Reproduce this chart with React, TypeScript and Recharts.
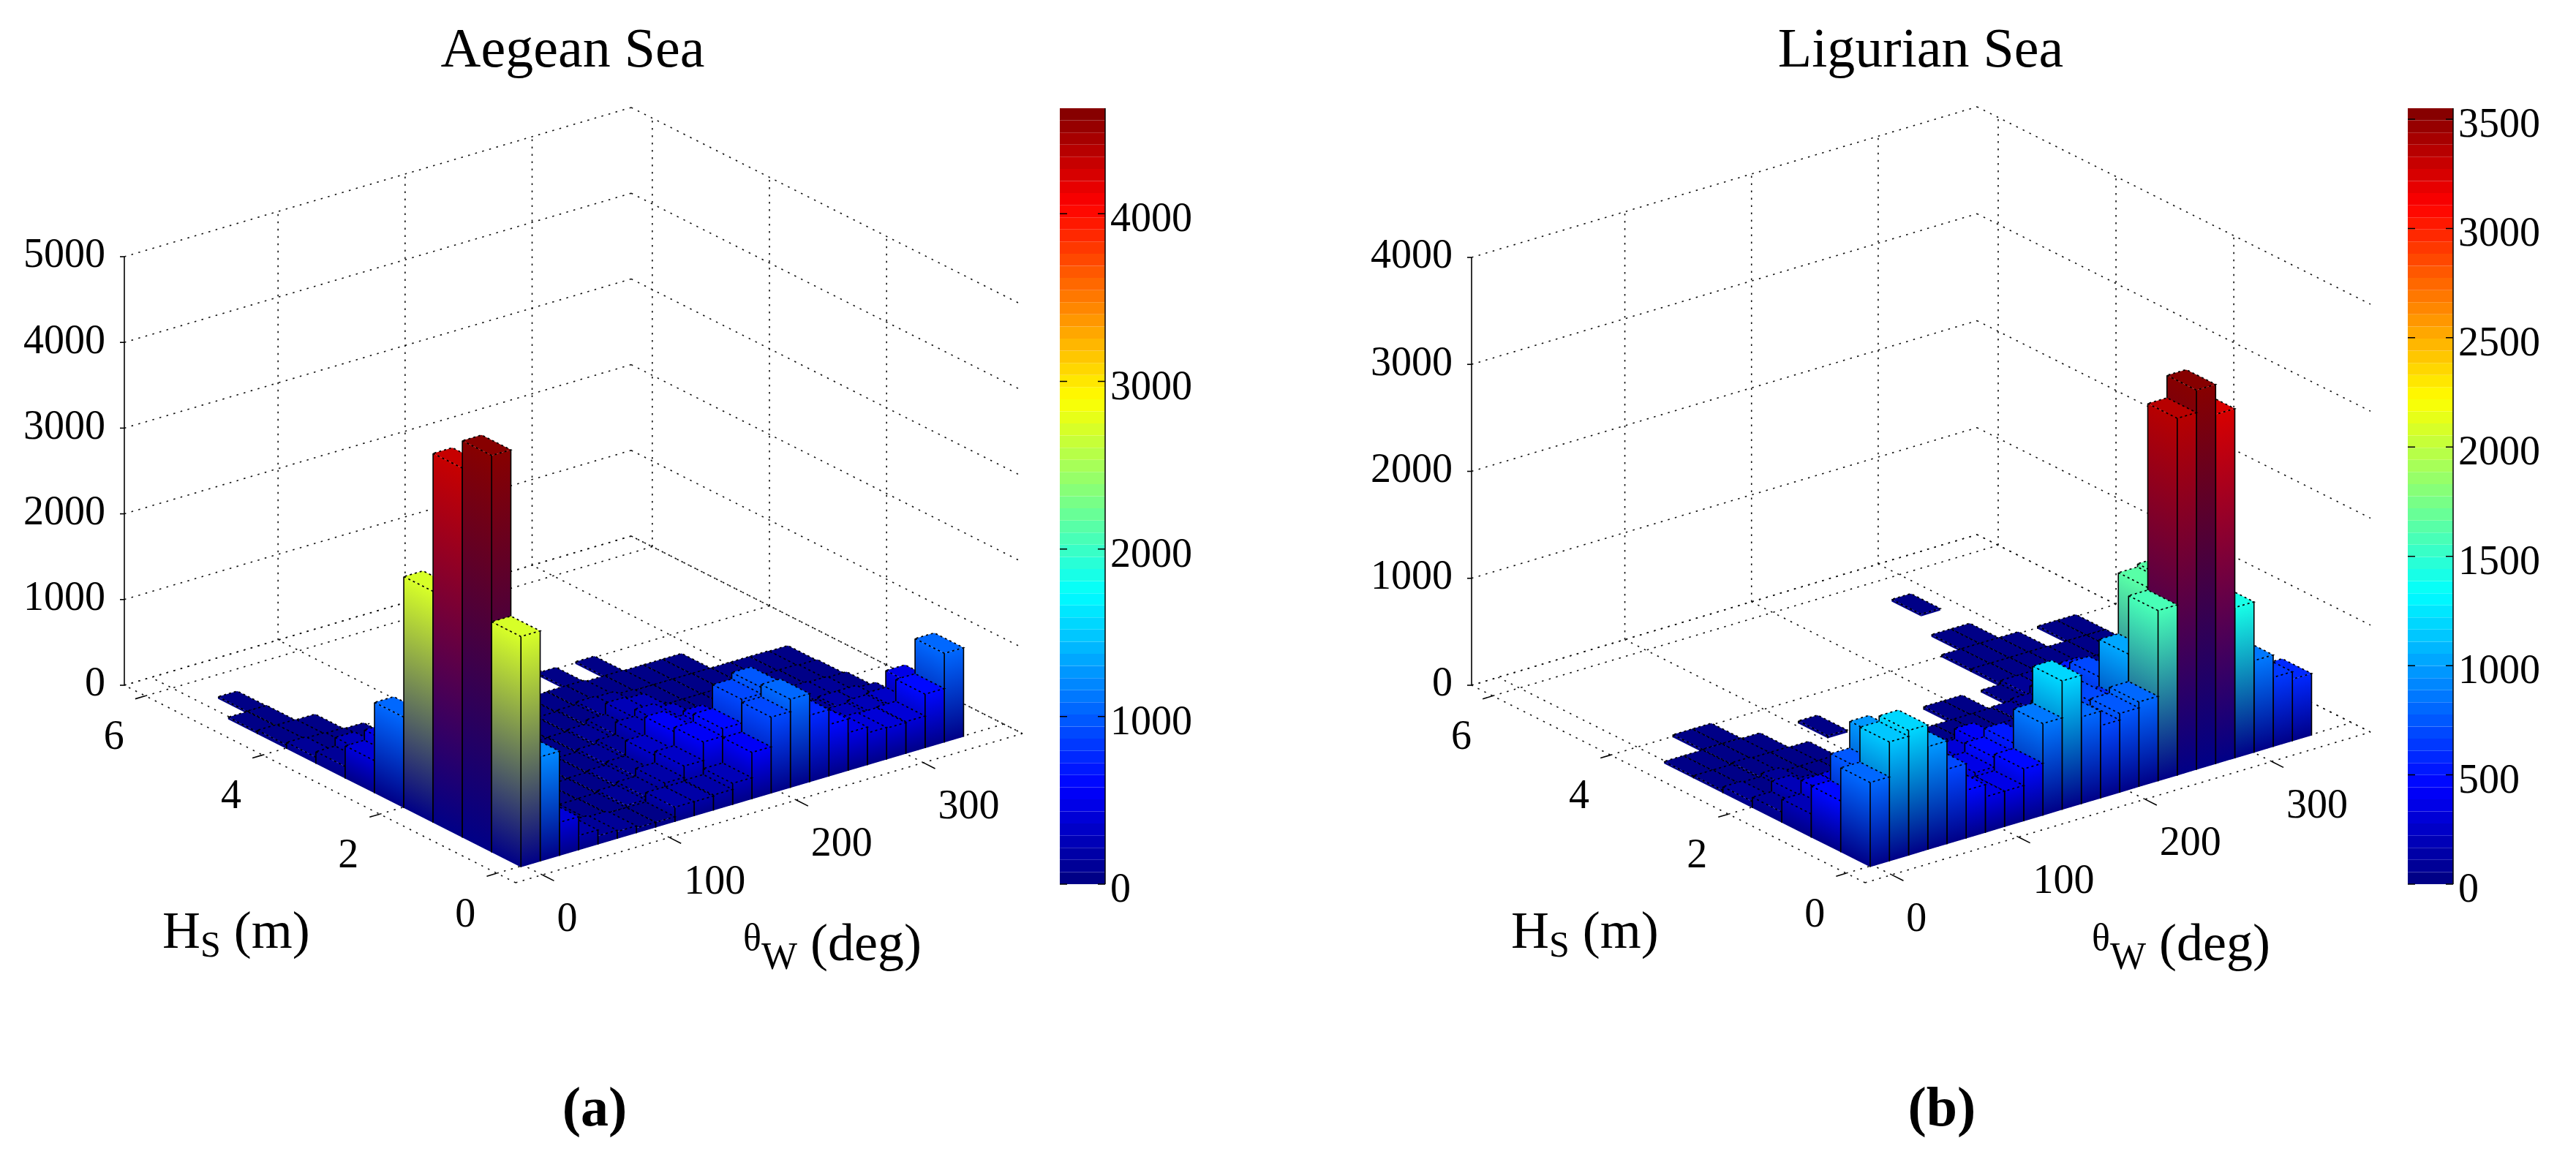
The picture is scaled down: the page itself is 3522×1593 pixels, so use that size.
import { BarChart, Bar, XAxis, YAxis, ScatterChart, Scatter, ReferenceLine } from 'recharts';

// wave height bins (m) and wave direction bins (deg)
const hsBins = [0, 0.5, 1, 1.5, 2, 2.5, 3, 3.5, 4, 4.5, 5];
const thetaBins = [0, 15, 30, 45, 60, 75, 90, 105, 120, 135, 150, 165, 180, 195, 210, 225, 240, 255, 270, 285, 300, 315, 330];

const thetaTicks = [0, 100, 200, 300];
const hsTicks = [0, 2, 4, 6];
const wallThetaTicks = [100, 200, 300];
const wallHsTicks = [2, 4, 6];
const aegeanZTicks = [0, 1000, 2000, 3000, 4000, 5000];
const ligurianZTicks = [0, 1000, 2000, 3000, 4000];
const aegeanBarTicks = [0, 1000, 2000, 3000, 4000];
const ligurianBarTicks = [0, 500, 1000, 1500, 2000, 2500, 3000, 3500];

// counts per theta bin, one list per Hs bin (0 = no bar)
const aegeanHs0 = [2690, 1220, 390, 170, 100, 85, 60, 60, 170, 168, 180, 250, 545, 890, 1033, 780, 605, 445, 375, 365, 375, 630, 1040];
const aegeanHs1 = [4630, 350, 80, 60, 60, 55, 60, 85, 120, 213, 345, 560, 650, 925, 1000, 90, 200, 180, 180, 250, 280, 300, 495];
const aegeanHs2 = [4310, 300, 70, 50, 50, 45, 50, 60, 80, 120, 300, 510, 400, 450, 300, 70, 80, 90, 90, 120, 150, 150, 120];
const aegeanHs3 = [2700, 250, 60, 45, 45, 45, 40, 50, 60, 90, 130, 280, 360, 300, 120, 50, 50, 60, 60, 80, 90, 80, 70];
const aegeanHs4 = [1060, 450, 50, 40, 40, 40, 40, 40, 50, 60, 80, 130, 260, 240, 80, 40, 40, 40, 40, 50, 50, 50, 40];
const aegeanHs5 = [380, 500, 60, 40, 40, 40, 35, 35, 40, 45, 55, 70, 100, 90, 50, 35, 35, 35, 35, 35, 35, 35, 30];
const aegeanHs6 = [140, 240, 60, 40, 35, 35, 30, 30, 30, 35, 40, 45, 50, 50, 35, 35, 30, 30, 30, 0, 0, 0, 0];
const aegeanHs7 = [75, 60, 50, 40, 0, 0, 0, 0, 0, 0, 0, 0, 0, 25, 0, 25, 0, 0, 0, 0, 0, 0, 0];
const aegeanHs8 = [45, 40, 35, 0, 0, 0, 0, 0, 0, 0, 0, 0, 0, 0, 0, 0, 0, 0, 0, 0, 0, 0, 0];
const aegeanHs9 = [25, 30, 0, 0, 0, 0, 0, 0, 0, 0, 0, 0, 0, 0, 0, 0, 0, 0, 0, 0, 0, 0, 0];
const aegeanHs10 = [0, 25, 0, 0, 0, 0, 0, 0, 0, 0, 0, 0, 0, 0, 0, 0, 0, 0, 0, 0, 0, 0, 0];
const aegeanRows = [aegeanHs0, aegeanHs1, aegeanHs2, aegeanHs3, aegeanHs4, aegeanHs5, aegeanHs6, aegeanHs7, aegeanHs8, aegeanHs9, aegeanHs10];

const ligurianHs0 = [790, 1116, 1170, 965, 700, 450, 335, 335, 490, 860, 1205, 815, 680, 740, 795, 1596, 3340, 3550, 3270, 1410, 860, 650, 580];
const ligurianHs1 = [480, 730, 980, 150, 80, 100, 150, 370, 460, 540, 300, 300, 300, 720, 610, 1050, 1620, 1650, 900, 500, 300, 200, 150];
const ligurianHs2 = [220, 345, 350, 100, 60, 60, 120, 200, 300, 400, 300, 250, 200, 450, 500, 700, 630, 800, 400, 100, 80, 60, 50];
const ligurianHs3 = [100, 200, 150, 60, 50, 50, 60, 80, 100, 120, 100, 80, 80, 100, 100, 200, 500, 300, 200, 80, 60, 50, 40];
const ligurianHs4 = [60, 50, 80, 40, 40, 40, 40, 40, 45, 50, 50, 50, 50, 50, 60, 80, 150, 120, 80, 50, 40, 40, 30];
const ligurianHs5 = [25, 25, 40, 30, 30, 25, 0, 0, 0, 0, 0, 0, 30, 30, 0, 25, 60, 60, 50, 35, 30, 30, 25];
const ligurianHs6 = [20, 20, 25, 25, 20, 0, 0, 25, 0, 0, 0, 0, 0, 0, 0, 0, 30, 30, 30, 30, 25, 25, 25];
const ligurianHs7 = [0, 0, 25, 25, 0, 0, 0, 0, 0, 0, 0, 0, 0, 0, 0, 0, 25, 25, 25, 25, 0, 25, 25];
const ligurianHs8 = [0, 0, 0, 0, 0, 0, 0, 0, 0, 0, 0, 0, 0, 0, 0, 0, 0, 20, 20, 0, 0, 0, 0];
const ligurianHs9 = [0, 0, 0, 0, 0, 0, 0, 0, 0, 0, 0, 0, 0, 0, 0, 0, 0, 0, 0, 0, 0, 0, 0];
const ligurianHs10 = [0, 0, 0, 0, 0, 0, 0, 0, 0, 0, 0, 0, 0, 0, 0, 0, 0, 0, 20, 0, 0, 0, 0];
const ligurianRows = [ligurianHs0, ligurianHs1, ligurianHs2, ligurianHs3, ligurianHs4, ligurianHs5, ligurianHs6, ligurianHs7, ligurianHs8, ligurianHs9, ligurianHs10];

const SERIF = '"Liberation Serif", serif';
const W = 3522;
const H = 1593;
const THETA_RANGE = [-21, 378];
const HS_RANGE = [-0.32, 6.36];
const THETA_STEP = 15.15;
const HS_STEP = 0.5;
const THETA_START = -3;
const HS_START = -0.02;
const DOT = '2.5 7.5';

const aegeanBox = {
  id: 'a',
  front: [705, 1207],
  thetaVec: [693, -204],
  hsVec: [-535, -270],
  zHeight: 586,
  zMax: 5000,
  cbMax: 4630,
  rows: aegeanRows,
  zTicks: aegeanZTicks,
  title: 'Aegean Sea',
  titleX: 783,
  tag: '(a)',
  tagX: 813,
  hsLabel: [222, 1296],
  thetaLabel: [1016, 1313],
};

const ligurianBox = {
  id: 'b',
  front: [2550, 1207],
  thetaVec: [691, -206],
  hsVec: [-538, -270],
  zHeight: 585,
  zMax: 4000,
  cbMax: 3550,
  rows: ligurianRows,
  zTicks: ligurianZTicks,
  title: 'Ligurian Sea',
  titleX: 2626,
  tag: '(b)',
  tagX: 2655,
  hsLabel: [2066, 1296],
  thetaLabel: [2860, 1313],
};

type Box = typeof aegeanBox;

const thetaFrac = (t: number) => (t - THETA_RANGE[0]) / (THETA_RANGE[1] - THETA_RANGE[0]);
const hsFrac = (h: number) => (h - HS_RANGE[0]) / (HS_RANGE[1] - HS_RANGE[0]);

// 3D value -> plane position, the axes of the chart then place it
const project = (b: Box, theta: number, hs: number, z = 0) => ({
  px: b.front[0] + thetaFrac(theta) * b.thetaVec[0] + hsFrac(hs) * b.hsVec[0],
  py: b.front[1] + thetaFrac(theta) * b.thetaVec[1] + hsFrac(hs) * b.hsVec[1] - (z / b.zMax) * b.zHeight,
});

// matlab jet, 64 levels
const jet = (v: number, max: number) => {
  const idx = Math.min(63, Math.floor((v / max) * 64));
  const t = (idx + 0.5) / 64;
  const c = (x: number) => Math.round(255 * Math.max(0, Math.min(1, 1.5 - Math.abs(4 * t - x))));
  return `rgb(${c(3)},${c(2)},${c(1)})`;
};

const barPoints = (b: Box) => {
  const pts: any[] = [];
  for (let i = b.rows.length - 1; i >= 0; i--) {
    for (let j = thetaBins.length - 1; j >= 0; j--) {
      const count = b.rows[i][j];
      if (!count) continue;
      const theta = THETA_START + (thetaBins[j] / 15) * THETA_STEP;
      const hs = HS_START + hsBins[i];
      pts.push({ ...project(b, theta, hs), count, i, j });
    }
  }
  return pts;
};

const makeBarShape = (b: Box) => {
  const dThetaFrac = THETA_STEP / (THETA_RANGE[1] - THETA_RANGE[0]);
  const dHsFrac = HS_STEP / (HS_RANGE[1] - HS_RANGE[0]);
  const rx = dThetaFrac * b.thetaVec[0];
  const ry = dThetaFrac * b.thetaVec[1];
  const lx = dHsFrac * b.hsVec[0];
  const ly = dHsFrac * b.hsVec[1];
  const low = jet(0, b.cbMax);

  return (props: any) => {
    const { cx, cy, payload } = props;
    const h = (payload.count / b.zMax) * b.zHeight;
    const top = jet(payload.count, b.cbMax);
    const face = (ex: number, ey: number, ax: number, ay: number, id: string, pts: string) => {
      // gradient runs square to the slanted foot of the face
      const len = Math.hypot(ex, ey);
      const nx = -ey / len;
      const ny = ex / len;
      const d = nx * 0 + ny * -h;
      return (
        <>
          <linearGradient id={id} gradientUnits="userSpaceOnUse" x1={ax} y1={ay} x2={ax + nx * d} y2={ay + ny * d}>
            <stop offset="0" stopColor={low} />
            <stop offset="1" stopColor={top} />
          </linearGradient>
          <polygon points={pts} fill={`url(#${id})`} />
        </>
      );
    };
    const key = `${b.id}-${payload.i}-${payload.j}`;
    const Lx = cx + lx;
    const Ly = cy + ly;
    const Rx = cx + rx;
    const Ry = cy + ry;
    const t = cy - h;
    return (
      <g>
        {face(lx, ly, cx, cy, `l-${key}`, `${Lx},${Ly} ${cx},${cy} ${cx},${t} ${Lx},${Ly - h}`)}
        {face(rx, ry, cx, cy, `r-${key}`, `${cx},${cy} ${Rx},${Ry} ${Rx},${Ry - h} ${cx},${t}`)}
        <polygon
          points={`${cx},${t} ${Rx},${Ry - h} ${Rx + lx},${Ry + ly - h} ${Lx},${Ly - h}`}
          fill={top}
        />
        {h > 3 && (
          <path
            d={`M${Lx},${Ly} V${Ly - h} M${cx},${cy} V${t} M${Rx},${Ry} V${Ry - h}`}
            stroke="#000"
            strokeWidth={1.6}
            fill="none"
          />
        )}
        <path
          d={`M${Lx},${Ly - h} L${cx},${t} L${Rx},${Ry - h} L${Rx + lx},${Ry + ly - h} L${Lx},${Ly - h}`}
          stroke="#000"
          strokeWidth={1.7}
          strokeDasharray="3 4"
          fill="none"
        />
      </g>
    );
  };
};

const gridSegments = (b: Box) => {
  const [t0, t1] = THETA_RANGE;
  const [h0, h1] = HS_RANGE;
  const seg = (a: any, c: any) => [
    { x: a.px, y: a.py },
    { x: c.px, y: c.py },
  ];
  const out: any[] = [];
  // floor outline
  out.push(seg(project(b, t0, h0), project(b, t1, h0)));
  out.push(seg(project(b, t0, h0), project(b, t0, h1)));
  out.push(seg(project(b, t0, h1), project(b, t1, h1)));
  out.push(seg(project(b, t1, h0), project(b, t1, h1)));
  thetaTicks.forEach((t) => out.push(seg(project(b, t, h0), project(b, t, h1))));
  hsTicks.forEach((h) => out.push(seg(project(b, t0, h), project(b, t1, h))));
  wallThetaTicks.forEach((t) => out.push(seg(project(b, t, h1), project(b, t, h1, b.zMax))));
  wallHsTicks.forEach((h) => out.push(seg(project(b, t1, h), project(b, t1, h, b.zMax))));
  b.zTicks.forEach((z) => {
    out.push(seg(project(b, t0, h1, z), project(b, t1, h1, z)));
    out.push(seg(project(b, t1, h1, z), project(b, t1, h0, z)));
  });
  return out;
};

const axisSegments = (b: Box) => {
  const [t0] = THETA_RANGE;
  const [h0, h1] = HS_RANGE;
  const seg = (a: any, c: any) => [
    { x: a.px, y: a.py },
    { x: c.px, y: c.py },
  ];
  const out: any[] = [seg(project(b, t0, h1), project(b, t0, h1, b.zMax))];
  thetaTicks.forEach((t) => out.push(seg(project(b, t, h0), project(b, t, h0 - 0.2))));
  hsTicks.forEach((h) => out.push(seg(project(b, t0, h), project(b, t0 - 8, h))));
  b.zTicks.forEach((z) => {
    const p = project(b, t0, h1, z);
    out.push(seg(p, { px: p.px - 6, py: p.py }));
  });
  return out;
};

const textMarks = (b: Box) => {
  const [t0] = THETA_RANGE;
  const [h0, h1] = HS_RANGE;
  const marks: any[] = [];
  thetaTicks.forEach((t) => {
    const p = project(b, t, h0);
    marks.push({ px: p.px + 20, py: p.py + 58, text: String(t), anchor: 'start', size: 56 });
  });
  hsTicks.forEach((h) => {
    const p = project(b, t0, h);
    marks.push({ px: p.px - 43, py: p.py + 54, text: String(h), anchor: 'middle', size: 56 });
  });
  b.zTicks.forEach((z) => {
    const p = project(b, t0, h1, z);
    marks.push({ px: p.px - 26, py: p.py - 4, text: String(z), anchor: 'end', size: 56 });
  });
  marks.push({ px: b.titleX, py: 66, text: b.title, anchor: 'middle', size: 76 });
  marks.push({ px: b.tagX, py: 1514, text: b.tag, anchor: 'middle', size: 76, bold: true });
  return marks;
};

const TextShape = (props: any) => {
  const { cx, cy, payload } = props;
  return (
    <text
      x={cx}
      y={cy + payload.size * 0.33}
      textAnchor={payload.anchor}
      fontFamily={SERIF}
      fontSize={payload.size}
      fontWeight={payload.bold ? 700 : 400}
      fill="#000"
    >
      {payload.text}
    </text>
  );
};

const HsTitle = (props: any) => (
  <text x={props.cx} y={props.cy} fontFamily={SERIF} fontSize={72} fill="#000">
    H<tspan fontSize={50} dy={12}>S</tspan>
    <tspan dy={-12}> (m)</tspan>
  </text>
);

const ThetaTitle = (props: any) => (
  <text x={props.cx} y={props.cy} fontFamily={SERIF} fontSize={72} fill="#000">
    <tspan fontSize={52} dy={-14}>θ</tspan>
    <tspan fontSize={52} dy={26}>W</tspan>
    <tspan dy={-12}> (deg)</tspan>
  </text>
);

const PANELS = [aegeanBox, ligurianBox];

const ColorBar = ({ max, ticks, left }: { max: number; ticks: number[]; left: number }) => {
  const levels = Array.from({ length: 64 }, (_, k) => k);
  const row: any = { name: 'cb' };
  levels.forEach((k) => (row[`s${k}`] = max / 64));
  const tick = (p: any) => (
    <g>
      <path d={`M${p.x - 62},${p.y} h10 M${p.x},${p.y} h-10`} stroke="#000" strokeWidth={1.5} />
      <text x={p.x + 7} y={p.y + 24} fontFamily={SERIF} fontSize={56} fill="#000">
        {p.payload.value}
      </text>
    </g>
  );
  return (
    <div style={{ position: 'absolute', left, top: 108 }}>
      <BarChart
        width={201}
        height={1141}
        data={[row]}
        barCategoryGap={0}
        margin={{ top: 40, right: 0, bottom: 40, left: 0 }}
      >
        <XAxis dataKey="name" hide />
        <YAxis
          orientation="right"
          type="number"
          width={139}
          domain={[0, max]}
          ticks={ticks}
          interval={0}
          tickLine={false}
          tickSize={0}
          tickMargin={0}
          tick={tick}
          axisLine={{ stroke: '#000', strokeWidth: 1.5 }}
          allowDataOverflow
        />
        {levels.map((k) => (
          <Bar key={k} dataKey={`s${k}`} stackId="cb" fill={jet((k + 0.5) * (max / 64), max)} isAnimationActive={false} />
        ))}
      </BarChart>
    </div>
  );
};

export default function App() {
  return (
    <div style={{ position: 'absolute', left: 0, top: 0, width: W, height: H, background: '#fff' }}>
      <ScatterChart width={W} height={H} margin={{ top: 0, right: 0, bottom: 0, left: 0 }}>
        <XAxis type="number" dataKey="px" domain={[0, W]} hide allowDataOverflow />
        <YAxis type="number" dataKey="py" domain={[0, H]} reversed hide allowDataOverflow />
        {PANELS.map((b) =>
          gridSegments(b).map((s, k) => (
            <ReferenceLine key={`g${b.id}${k}`} segment={s} stroke="#111" strokeWidth={1.6} strokeDasharray={DOT} ifOverflow="visible" />
          ))
        )}
        {PANELS.map((b) =>
          axisSegments(b).map((s, k) => (
            <ReferenceLine key={`a${b.id}${k}`} segment={s} stroke="#000" strokeWidth={1.6} ifOverflow="visible" />
          ))
        )}
        {PANELS.map((b) => (
          <Scatter key={`bars${b.id}`} data={barPoints(b)} shape={makeBarShape(b)} isAnimationActive={false} />
        ))}
        {PANELS.map((b) => (
          <Scatter key={`text${b.id}`} data={textMarks(b)} shape={TextShape} isAnimationActive={false} />
        ))}
        {PANELS.map((b) => (
          <Scatter key={`hs${b.id}`} data={[{ px: b.hsLabel[0], py: b.hsLabel[1] }]} shape={HsTitle} isAnimationActive={false} />
        ))}
        {PANELS.map((b) => (
          <Scatter key={`th${b.id}`} data={[{ px: b.thetaLabel[0], py: b.thetaLabel[1] }]} shape={ThetaTitle} isAnimationActive={false} />
        ))}
      </ScatterChart>
      <ColorBar max={aegeanBox.cbMax} ticks={aegeanBarTicks} left={1449} />
      <ColorBar max={ligurianBox.cbMax} ticks={ligurianBarTicks} left={3292} />
    </div>
  );
}
